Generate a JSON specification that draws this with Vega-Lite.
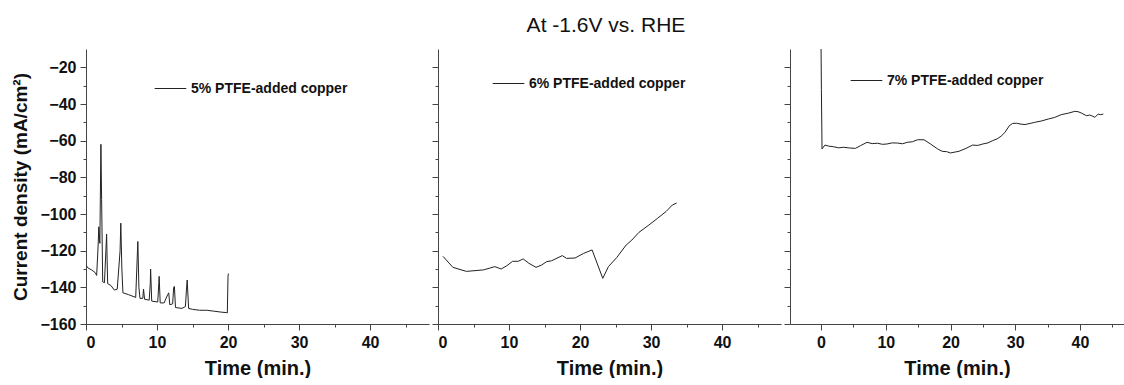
{
  "$schema": "https://vega.github.io/schema/vega-lite/v6.json",
  "padding": {"left": 11, "top": 15, "right": 0, "bottom": 0},
  "background": "white",
  "title": {"text": "At -1.6V vs. RHE", "fontSize": 21, "fontWeight": "normal", "font": "Liberation Sans", "color": "#111", "anchor": "middle", "offset": 13, "dx": 38},
  "config": {
    "font": "Liberation Sans",
    "view": {"stroke": null},
    "axis": {"grid": false, "domainColor": "#444", "tickColor": "#444", "labelColor": "#111", "titleColor": "#111", "labelFont": "Liberation Sans", "labelFontWeight": "bold", "labelFontSize": 16, "titleFont": "Liberation Sans", "titleFontWeight": "bold"},
    "legend": {"padding": 0, "offset": 0}
  },
  "spacing": 2,
  "datasets": {
    "p5": [
      {"t": 0, "j": -128}, {"t": 0.3, "j": -129.5}, {"t": 0.8, "j": -130.5}, {"t": 1.3, "j": -132}, {"t": 1.5, "j": -133.5},
      {"t": 1.7, "j": -118}, {"t": 1.8, "j": -107}, {"t": 1.95, "j": -116}, {"t": 2.1, "j": -62}, {"t": 2.2, "j": -92},
      {"t": 2.35, "j": -137}, {"t": 2.6, "j": -137.5}, {"t": 2.8, "j": -120}, {"t": 2.9, "j": -111}, {"t": 3.05, "j": -138},
      {"t": 3.5, "j": -139}, {"t": 4.0, "j": -141.5}, {"t": 4.4, "j": -141}, {"t": 4.8, "j": -120}, {"t": 4.9, "j": -105},
      {"t": 5.05, "j": -130}, {"t": 5.2, "j": -143}, {"t": 6.0, "j": -144}, {"t": 7.0, "j": -145.5}, {"t": 7.2, "j": -125},
      {"t": 7.3, "j": -115}, {"t": 7.45, "j": -140}, {"t": 7.6, "j": -146}, {"t": 8.0, "j": -146}, {"t": 8.1, "j": -141},
      {"t": 8.25, "j": -146.5}, {"t": 8.9, "j": -147}, {"t": 9.05, "j": -138}, {"t": 9.1, "j": -130}, {"t": 9.25, "j": -147.5},
      {"t": 10.1, "j": -148}, {"t": 10.25, "j": -138}, {"t": 10.3, "j": -134}, {"t": 10.45, "j": -148.5}, {"t": 11.0, "j": -148.5},
      {"t": 11.5, "j": -144}, {"t": 11.65, "j": -143}, {"t": 11.8, "j": -149.5}, {"t": 12.2, "j": -149}, {"t": 12.35, "j": -140},
      {"t": 12.45, "j": -139.5}, {"t": 12.6, "j": -151}, {"t": 13.5, "j": -151.5}, {"t": 14.0, "j": -150.5}, {"t": 14.15, "j": -141},
      {"t": 14.25, "j": -136}, {"t": 14.45, "j": -151.5}, {"t": 15, "j": -152}, {"t": 16, "j": -152.5}, {"t": 17, "j": -152.5},
      {"t": 18, "j": -153}, {"t": 19, "j": -153.5}, {"t": 19.8, "j": -153.8}, {"t": 19.9, "j": -154}, {"t": 20.0, "j": -134},
      {"t": 20.05, "j": -132.5}
    ],
    "p6": [
      {"t": 0.7, "j": -123.1}, {"t": 2.1, "j": -129.1}, {"t": 4.0, "j": -131.3}, {"t": 6.4, "j": -130.5}, {"t": 7.3, "j": -129.5},
      {"t": 8.0, "j": -128.7}, {"t": 8.9, "j": -130}, {"t": 9.7, "j": -128.2}, {"t": 10.5, "j": -125.8}, {"t": 11.3, "j": -125.8},
      {"t": 12.0, "j": -124.5}, {"t": 12.8, "j": -126.9}, {"t": 13.8, "j": -129.1}, {"t": 14.6, "j": -127.8}, {"t": 15.3, "j": -126},
      {"t": 16.0, "j": -125.5}, {"t": 17.5, "j": -122.7}, {"t": 18.1, "j": -124.2}, {"t": 19.3, "j": -124}, {"t": 20.5, "j": -121.5},
      {"t": 21.7, "j": -119.6}, {"t": 23.2, "j": -135.1}, {"t": 24.0, "j": -128.7}, {"t": 25.2, "j": -123.6}, {"t": 26.5, "j": -116.9},
      {"t": 27.3, "j": -114.2}, {"t": 28.3, "j": -110}, {"t": 29.7, "j": -106}, {"t": 30.9, "j": -102.4}, {"t": 32.1, "j": -98.7},
      {"t": 33.0, "j": -95.1}, {"t": 33.6, "j": -94}
    ],
    "p7": [
      {"t": 0, "j": -10}, {"t": 0.05, "j": -32}, {"t": 0.15, "j": -64.5}, {"t": 0.6, "j": -62.4}, {"t": 1.2, "j": -63.0},
      {"t": 1.9, "j": -63.3}, {"t": 2.7, "j": -63.9}, {"t": 3.5, "j": -63.6}, {"t": 4.4, "j": -64.0}, {"t": 5.3, "j": -64.2},
      {"t": 6.1, "j": -62.7}, {"t": 7.1, "j": -60.9}, {"t": 7.9, "j": -61.6}, {"t": 8.7, "j": -61.4}, {"t": 9.5, "j": -62.0},
      {"t": 10.2, "j": -61.8}, {"t": 11.0, "j": -61.2}, {"t": 11.8, "j": -61.3}, {"t": 12.6, "j": -61.7}, {"t": 13.3, "j": -60.9},
      {"t": 14.1, "j": -60.6}, {"t": 14.9, "j": -59.5}, {"t": 15.9, "j": -59.5}, {"t": 16.9, "j": -61.8}, {"t": 18.0, "j": -64.5},
      {"t": 18.7, "j": -65.8}, {"t": 19.4, "j": -66.0}, {"t": 20.0, "j": -66.7}, {"t": 20.7, "j": -66.2}, {"t": 21.3, "j": -65.8},
      {"t": 22.4, "j": -64.2}, {"t": 23.4, "j": -62.4}, {"t": 24.2, "j": -62.6}, {"t": 25.0, "j": -61.8}, {"t": 25.8, "j": -61.2},
      {"t": 26.5, "j": -60.0}, {"t": 27.2, "j": -59.0}, {"t": 27.8, "j": -57.6}, {"t": 28.4, "j": -55.5}, {"t": 29.1, "j": -51.8},
      {"t": 29.6, "j": -50.6}, {"t": 30.2, "j": -50.5}, {"t": 30.9, "j": -51.0}, {"t": 31.5, "j": -51.2}, {"t": 32.3, "j": -50.6},
      {"t": 33.0, "j": -50.0}, {"t": 34.0, "j": -49.3}, {"t": 35.1, "j": -48.2}, {"t": 36.1, "j": -47.3}, {"t": 37.1, "j": -45.8},
      {"t": 38.2, "j": -45.0}, {"t": 39.2, "j": -44.0}, {"t": 39.7, "j": -44.2}, {"t": 40.2, "j": -44.9}, {"t": 41.0, "j": -46.4},
      {"t": 41.5, "j": -46.0}, {"t": 42.0, "j": -46.7}, {"t": 42.3, "j": -47.3}, {"t": 42.8, "j": -45.5}, {"t": 43.2, "j": -45.8},
      {"t": 43.6, "j": -45.5}
    ]
  },
  "hconcat": [
    {
      "width": 343, "height": 275,
      "data": {"name": "p5"},
      "mark": {"type": "line", "strokeWidth": 1, "clip": true},
      "encoding": {
        "x": {"field": "t", "type": "quantitative", "scale": {"domain": [0, 48.3], "nice": false, "zero": false},
          "axis": {"title": "Time (min.)", "titleFontSize": 20, "titlePadding": 8, "values": [0, 5, 10, 15, 20, 25, 30, 35, 40, 45], "labelExpr": "datum.value % 10 === 0 ? datum.label : ''", "tickSize": {"condition": {"test": "datum.value % 10 === 0", "value": 6}, "value": 3}, "labelPadding": 4}},
        "y": {"field": "j", "type": "quantitative", "scale": {"domain": [-160, -10], "nice": false, "zero": false},
          "axis": {"title": "Current density (mA/cm²)", "titleFontSize": 19, "titlePadding": 9, "values": [-160, -150, -140, -130, -120, -110, -100, -90, -80, -70, -60, -50, -40, -30, -20], "labelExpr": "datum.value % 20 === 0 ? datum.label : ''", "tickSize": {"condition": {"test": "datum.value % 20 === 0", "value": 6}, "value": 3}, "labelPadding": 4}},
        "color": {"datum": "5% PTFE-added copper", "type": "nominal", "scale": {"range": ["#222"]},
          "legend": {"title": null, "orient": "none", "legendX": 68, "legendY": 23, "symbolType": "stroke", "symbolSize": 1000, "symbolStrokeWidth": 1, "labelFontSize": 14, "labelFontWeight": "bold", "labelColor": "#111", "labelOffset": 4}}
      }
    },
    {
      "width": 343, "height": 275,
      "data": {"name": "p6"},
      "mark": {"type": "line", "strokeWidth": 1, "clip": true},
      "encoding": {
        "x": {"field": "t", "type": "quantitative", "scale": {"domain": [0, 48.3], "nice": false, "zero": false},
          "axis": {"title": "Time (min.)", "titleFontSize": 20, "titlePadding": 8, "values": [0, 5, 10, 15, 20, 25, 30, 35, 40, 45], "labelExpr": "datum.value % 10 === 0 ? datum.label : ''", "tickSize": {"condition": {"test": "datum.value % 10 === 0", "value": 6}, "value": 3}, "labelPadding": 4}},
        "y": {"field": "j", "type": "quantitative", "scale": {"domain": [-160, -10], "nice": false, "zero": false},
          "axis": {"title": null, "labels": false, "values": [-160, -150, -140, -130, -120, -110, -100, -90, -80, -70, -60, -50, -40, -30, -20], "tickSize": {"condition": {"test": "datum.value % 20 === 0", "value": 6}, "value": 3}}},
        "color": {"datum": "6% PTFE-added copper", "type": "nominal", "scale": {"range": ["#222"]},
          "legend": {"title": null, "orient": "none", "legendX": 54, "legendY": 18, "symbolType": "stroke", "symbolSize": 1000, "symbolStrokeWidth": 1, "labelFontSize": 14, "labelFontWeight": "bold", "labelColor": "#111", "labelOffset": 4}}
      }
    },
    {
      "width": 334, "height": 275,
      "data": {"name": "p7"},
      "mark": {"type": "line", "strokeWidth": 1, "clip": true},
      "encoding": {
        "x": {"field": "t", "type": "quantitative", "scale": {"domain": [-4.8, 46.8], "nice": false, "zero": false},
          "axis": {"title": "Time (min.)", "titleFontSize": 20, "titlePadding": 8, "values": [0, 5, 10, 15, 20, 25, 30, 35, 40, 45], "labelExpr": "datum.value % 10 === 0 ? datum.label : ''", "tickSize": {"condition": {"test": "datum.value % 10 === 0", "value": 6}, "value": 3}, "labelPadding": 4}},
        "y": {"field": "j", "type": "quantitative", "scale": {"domain": [-160, -10], "nice": false, "zero": false},
          "axis": {"title": null, "labels": false, "values": [-160, -150, -140, -130, -120, -110, -100, -90, -80, -70, -60, -50, -40, -30, -20], "tickSize": {"condition": {"test": "datum.value % 20 === 0", "value": 6}, "value": 3}}},
        "color": {"datum": "7% PTFE-added copper", "type": "nominal", "scale": {"range": ["#222"]},
          "legend": {"title": null, "orient": "none", "legendX": 60, "legendY": 15, "symbolType": "stroke", "symbolSize": 1000, "symbolStrokeWidth": 1, "labelFontSize": 14, "labelFontWeight": "bold", "labelColor": "#111", "labelOffset": 4}}
      }
    }
  ],
  "resolve": {"scale": {"color": "independent", "x": "independent", "y": "independent"}, "legend": {"color": "independent"}}
}
